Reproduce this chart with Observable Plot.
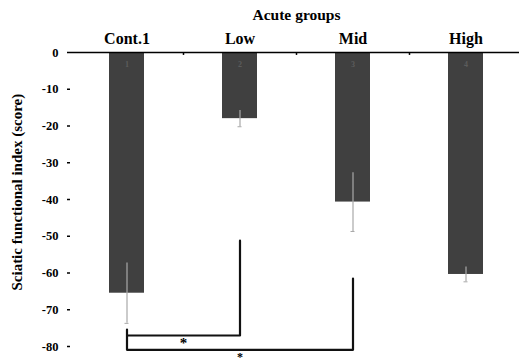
<!DOCTYPE html>
<html><head><meta charset="utf-8">
<script src="https://cdn.jsdelivr.net/npm/d3@7"></script>
<script src="https://cdn.jsdelivr.net/npm/@observablehq/plot@0.6"></script>
<style>body{margin:0;background:#fff;} svg{font-family:"Liberation Serif","Times New Roman",serif;font-weight:bold;}</style>
</head><body><div id="chart"></div>
<script>
const groups = ["Cont.1", "Low", "Mid", "High"];
const means = [-65.5, -18.0, -40.7, -60.4];
const errors = [8.2, 2.2, 8.0, 2.0];
const barNumbers = ["1", "2", "3", "4"];
const yTicks = [0, -10, -20, -30, -40, -50, -60, -70, -80];
const topTitle = "Acute groups";
const yTitle = "Sciatic functional index (score)";
// significance brackets: [group, y]
const bracket1 = [["Low", -51.2], ["Low", -77.0], ["Cont.1", -77.0]];
const bracket2 = [["Cont.1", -75.4], ["Cont.1", -80.9], ["Mid", -80.9], ["Mid", -61.5]];
const stars = [["Cont.1", -79.0, "half"], ["Low", -82.8, "center"]];

const data = groups.map((g, i) => ({group: g, mean: means[i], err: errors[i], num: barNumbers[i]}));
const W = 519, H = 364, mL = 70, mR = -3, mT = 52, mB = 18;
const step = (W - mL - mR) / groups.length;

const plot = Plot.plot({
  width: W, height: H,
  marginLeft: mL, marginRight: mR, marginTop: mT, marginBottom: mB,
  style: {fontFamily: "Liberation Serif, serif", fontWeight: "bold", background: "#fff", overflow: "visible"},
  x: {type: "band", domain: groups, paddingInner: 0.69, paddingOuter: 0.345, axis: null},
  y: {domain: [-80, 0], axis: null},
  marks: [
    Plot.barY(data, {x: "group", y: "mean", fill: "#404040"}),
    Plot.text(data, {x: "group", y: 0, text: "num", dy: 12, fill: "#5c5c5c", fontSize: 8}),
    Plot.ruleX(data, {x: "group", y1: d => d.mean - d.err, y2: d => d.mean + d.err, stroke: "#a8a8a8", strokeWidth: 1.2}),
    Plot.tickY(data, {x: "group", y: d => d.mean - d.err, stroke: "#a8a8a8", insetLeft: 15.5, insetRight: 15.5}),
    Plot.ruleY([0], {stroke: "#000", strokeWidth: 1.5}),
    Plot.ruleX(groups.slice(0, -1), {x: d => d, y1: 0, y2: -0.8, dx: step / 2, stroke: "#000", strokeWidth: 1.5}),
    Plot.axisY({ticks: yTicks, tickFormat: d => String(d), tickSize: 3, tickPadding: 9, fontSize: 12.5, fontWeight: "bold", label: null, stroke: "#000", strokeWidth: 1.5}),
    Plot.ruleX([0], {frameAnchor: "left", y1: 0, y2: -80, stroke: "#000", strokeWidth: 1.5}),
    Plot.axisX({anchor: "top", tickSize: 0, tickPadding: 9, fontSize: 16, fontWeight: "bold", label: null}),
    Plot.text([topTitle], {frameAnchor: "top", dy: -37, fontSize: 15.5, fontWeight: "bold", lineAnchor: "middle"}),
    Plot.text([{t: yTitle, y: -38}], {y: "y", text: "t", frameAnchor: "left", textAnchor: "middle", dx: -53, rotate: -90, fontSize: 15, fontWeight: "bold", lineAnchor: "middle"}),
    Plot.line(bracket1, {x: d => d[0], y: d => d[1], stroke: "#111", strokeWidth: 2.2}),
    Plot.line(bracket2, {x: d => d[0], y: d => d[1], stroke: "#111", strokeWidth: 2.2}),
    Plot.text(stars.filter(s => s[2] === "half"), {x: d => d[0], y: d => d[1], text: () => "*", dx: step / 2, fontSize: 15, fontWeight: "bold", lineAnchor: "middle"}),
    Plot.text(stars.filter(s => s[2] === "center"), {x: d => d[0], y: d => d[1], text: () => "*", fontSize: 12, fontWeight: "bold", lineAnchor: "middle"})
  ]
});
document.getElementById("chart").appendChild(plot);
</script></body></html>
